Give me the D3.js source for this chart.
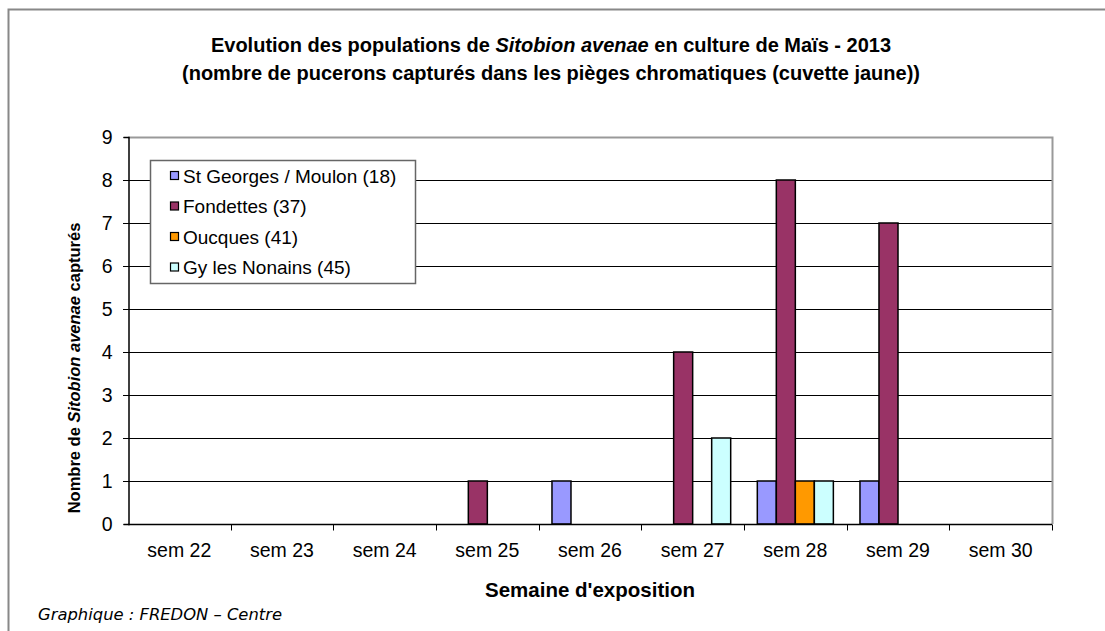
<!DOCTYPE html>
<html>
<head>
  <meta charset="utf-8">
  <title>Sitobion avenae - Maïs 2013</title>
  <style>
    body { margin: 0; background: #fff; }
    svg text { font-family: Arial, "Liberation Sans", sans-serif; }
  </style>
</head>
<body>
  <div class="area"></div>

  <script src="https://cdn.jsdelivr.net/npm/d3@7"></script>
  <script type="text/javascript">

  var weeks = ['sem 22', 'sem 23', 'sem 24', 'sem 25', 'sem 26', 'sem 27', 'sem 28', 'sem 29', 'sem 30'];
  var seriesNames = ['St Georges / Moulon (18)', 'Fondettes (37)', 'Oucques (41)', 'Gy les Nonains (45)'];
  var stGeorges = [0, 0, 0, 0, 1, 0, 1, 1, 0];
  var fondettes = [0, 0, 0, 1, 0, 4, 8, 7, 0];
  var oucques   = [0, 0, 0, 0, 0, 0, 1, 0, 0];
  var gyNonains = [0, 0, 0, 0, 0, 2, 1, 0, 0];
  var yTicks = [0, 1, 2, 3, 4, 5, 6, 7, 8, 9];

  var colors = ['#9999ff', '#993366', '#ff9900', '#ccffff'];
  var seriesValues = [stGeorges, fondettes, oucques, gyNonains];

  var w = 1105, h = 631;
  var pLeft = 128, pTop = 137, pRight = 1052, pBottom = 524;

  var svg = d3.select('.area')
    .append('svg')
    .attr('width', w)
    .attr('height', h);

  // outer frame (cut off on the right and bottom in the original)
  svg.append('path')
    .attr('d', 'M8.5,' + (h + 2) + 'V9.5H' + (w + 2))
    .attr('fill', 'none')
    .attr('stroke', '#888')
    .attr('stroke-width', 2);

  var x0 = d3.scaleBand().domain(weeks).range([pLeft, pRight]);
  var gapW = 1.4;
  var x1 = d3.scaleBand().domain(d3.range(seriesNames.length))
    .range([0, x0.bandwidth()])
    .paddingOuter(gapW / 2).paddingInner(0);
  var y = d3.scaleLinear().domain([0, 9]).range([pBottom, pTop]);

  // gridlines (black, Excel style) with ticks sticking out on the left
  svg.append('g').selectAll('line')
    .data(yTicks.filter(function(d){ return d > 0 && d < 9; }))
    .enter().append('line')
    .attr('x1', pLeft - 5).attr('x2', pRight)
    .attr('y1', function(d){ return Math.round(y(d)) + 0.5; })
    .attr('y2', function(d){ return Math.round(y(d)) + 0.5; })
    .attr('stroke', '#000').attr('stroke-width', 1);

  // plot area border (gray top / right)
  svg.append('path')
    .attr('d', 'M' + pLeft + ',' + (pTop + 0.5) + 'H' + (pRight + 0.5) + 'V' + pBottom)
    .attr('fill', 'none').attr('stroke', '#999').attr('stroke-width', 2);

  // bars
  var groups = svg.append('g').selectAll('g')
    .data(seriesValues)
    .enter().append('g')
    .attr('fill', function(d, i){ return colors[i]; });

  groups.each(function(vals, si){
    d3.select(this).selectAll('rect')
      .data(vals.map(function(v, wi){ return {v: v, week: weeks[wi]}; })
                .filter(function(d){ return d.v > 0; }))
      .enter().append('rect')
      .attr('x', function(d){ return x0(d.week) + x1(si); })
      .attr('width', x1.bandwidth())
      .attr('y', function(d){ return y(d.v); })
      .attr('height', function(d){ return pBottom - y(d.v); })
      .attr('stroke', '#000')
      .attr('stroke-width', 1.5);
  });

  // y axis
  var yAxis = svg.append('g')
    .attr('transform', 'translate(' + (pLeft + 0.5) + ',0)')
    .call(d3.axisLeft(y).tickValues(yTicks).tickFormat(d3.format('d')).tickSize(5).tickPadding(11));
  yAxis.select('.domain').attr('stroke', '#000').attr('stroke-width', 1.5);
  yAxis.selectAll('.tick line').attr('stroke', '#000');
  yAxis.selectAll('text').attr('font-size', 19.5).attr('fill', '#000')
    .attr('font-family', 'Arial, "Liberation Sans", sans-serif');

  // x axis: ticks on category boundaries
  var xAxis = svg.append('g')
    .attr('transform', 'translate(0,' + (pBottom + 0.5) + ')');
  xAxis.append('line')
    .attr('x1', pLeft).attr('x2', pRight)
    .attr('stroke', '#000').attr('stroke-width', 1.5);
  xAxis.selectAll('line.tk')
    .data(weeks.slice(1).concat(['end']))
    .enter().append('line').attr('class', 'tk')
    .attr('x1', function(d){ return Math.round(d === 'end' ? pRight : x0(d)) + 0.5; })
    .attr('x2', function(d){ return Math.round(d === 'end' ? pRight : x0(d)) + 0.5; })
    .attr('y1', 0).attr('y2', 6)
    .attr('stroke', '#000');
  xAxis.selectAll('text')
    .data(weeks)
    .enter().append('text')
    .attr('x', function(d){ return x0(d) + x0.bandwidth() / 2; })
    .attr('y', 32)
    .attr('text-anchor', 'middle')
    .attr('font-size', 19.5)
    .text(function(d){ return d; });

  // title
  var title = svg.append('text')
    .attr('x', 551).attr('y', 52)
    .attr('text-anchor', 'middle')
    .attr('font-size', 20).attr('font-weight', 'bold');
  title.append('tspan').text('Evolution des populations de ');
  title.append('tspan').attr('font-style', 'italic').text('Sitobion avenae');
  title.append('tspan').text(' en culture de Maïs - 2013');
  svg.append('text')
    .attr('x', 551).attr('y', 80)
    .attr('text-anchor', 'middle')
    .attr('font-size', 20).attr('font-weight', 'bold')
    .text('(nombre de pucerons capturés dans les pièges chromatiques (cuvette jaune))');

  // axis titles
  var yt = svg.append('text')
    .attr('transform', 'translate(80,368) rotate(-90)')
    .attr('text-anchor', 'middle')
    .attr('font-size', 16.5).attr('font-weight', 'bold');
  yt.append('tspan').text('Nombre  de ');
  yt.append('tspan').attr('font-style', 'italic').text('Sitobion avenae');
  yt.append('tspan').text(' capturés');

  svg.append('text')
    .attr('x', (pLeft + pRight) / 2).attr('y', 597)
    .attr('text-anchor', 'middle')
    .attr('font-size', 20.5).attr('font-weight', 'bold')
    .text("Semaine d'exposition");

  svg.append('text')
    .attr('x', 38).attr('y', 620)
    .attr('font-size', 15).attr('font-style', 'italic')
    .style('font-family', '"DejaVu Sans", Verdana, sans-serif')
    .attr('textLength', 244).attr('lengthAdjust', 'spacingAndGlyphs')
    .text('Graphique : FREDON – Centre');

  // legend
  var lg = svg.append('g').attr('transform', 'translate(150,160)');
  lg.append('rect')
    .attr('x', 0.5).attr('y', 0.5).attr('width', 265).attr('height', 123)
    .attr('fill', '#fff').attr('stroke', '#666').attr('stroke-width', 1.5);
  var items = lg.selectAll('g.item')
    .data(seriesNames)
    .enter().append('g').attr('class', 'item')
    .attr('transform', function(d, i){ return 'translate(0,' + (16 + i * 30.5) + ')'; });
  items.append('rect')
    .attr('x', 20.5).attr('y', -4.5).attr('width', 8).attr('height', 8)
    .attr('fill', function(d, i){ return colors[i]; })
    .attr('stroke', '#000').attr('stroke-width', 1.2);
  items.append('text')
    .attr('x', 33).attr('y', 6.5)
    .attr('font-size', 19)
    .text(function(d){ return d; });

  </script>
</body>
</html>
